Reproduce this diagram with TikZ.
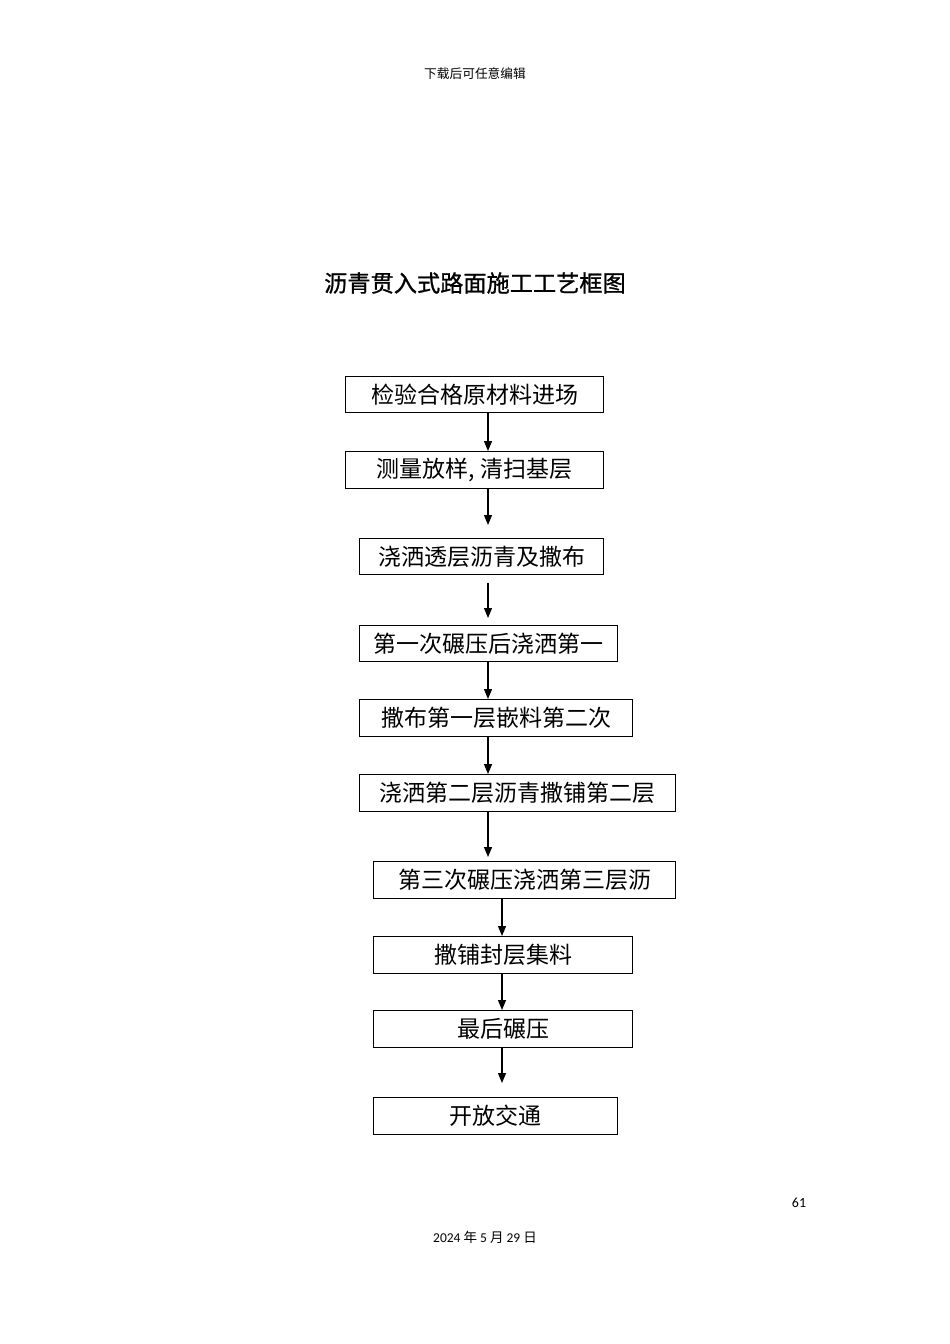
\documentclass[tikz,border=0pt]{standalone}
\usepackage{fontspec}
\setmainfont{Carlito}
\newfontfamily\cjk{Noto Sans CJK SC}
\newfontfamily\cjkb{Noto Sans CJK SC}[FakeBold=0.9]
\usetikzlibrary{arrows.meta}
\begin{document}
\begin{tikzpicture}[x=1pt,y=-1pt,
  stepbox/.style={draw,line width=1.3pt,inner sep=0pt,font=\cjk\fontsize{23}{26}\selectfont,anchor=north west},
  arr/.style={line width=1.2pt,-{Triangle[width=8pt,length=10pt]}}]
\useasboundingbox[fill=white] (0,0) rectangle (950,1344);
\node (hdr) at (475,74) {\cjk\fontsize{12.7}{14}\selectfont 下载后可任意编辑};
\node (title) at (475,283) {\cjkb\fontsize{23.2}{26}\selectfont 沥青贯入式路面施工工艺框图};
\node (pg) at (799,1203) {\fontsize{14}{16}\selectfont 61};
\node (date) at (485,1237) {\fontsize{13.5}{15}\selectfont 2024 {\cjk 年} 5 {\cjk 月} 29 {\cjk 日}};

\node[stepbox,minimum width=258,minimum height=36] (b1) at (345,376) {检验合格原材料进场};
\node[stepbox,minimum width=258,minimum height=37] (b2) at (345,451) {测量放样,\kern6pt 清扫基层};
\node[stepbox,minimum width=244,minimum height=36] (b3) at (359,538) {浇洒透层沥青及撒布};
\node[stepbox,minimum width=258,minimum height=36] (b4) at (359,625) {第一次碾压后浇洒第一};
\node[stepbox,minimum width=273,minimum height=37] (b5) at (359,699) {撒布第一层嵌料第二次};
\node[stepbox,minimum width=316,minimum height=37] (b6) at (359,774) {浇洒第二层沥青撒铺第二层};
\node[stepbox,minimum width=302,minimum height=37] (b7) at (373,861) {第三次碾压浇洒第三层沥};
\node[stepbox,minimum width=259,minimum height=37] (b8) at (373,936) {撒铺封层集料};
\node[stepbox,minimum width=259,minimum height=37] (b9) at (373,1010) {最后碾压};
\node[stepbox,minimum width=244,minimum height=37] (b10) at (373,1097) {开放交通};

\coordinate (xa) at (488,0);
\coordinate (xb) at (502,0);
\draw[arr] (b1.south -| xa) -- (b2.north -| xa);
\draw[arr,shorten >=13pt] (b2.south -| xa) -- (b3.north -| xa);
\draw[arr,shorten <=8pt,shorten >=7pt] (b3.south -| xa) -- (b4.north -| xa);
\draw[arr] (b4.south -| xa) -- (b5.north -| xa);
\draw[arr] (b5.south -| xa) -- (b6.north -| xa);
\draw[arr,shorten >=4pt] (b6.south -| xa) -- (b7.north -| xa);
\draw[arr] (b7.south -| xb) -- (b8.north -| xb);
\draw[arr] (b8.south -| xb) -- (b9.north -| xb);
\draw[arr,shorten >=14pt] (b9.south -| xb) -- (b10.north -| xb);
\end{tikzpicture}
\end{document}
